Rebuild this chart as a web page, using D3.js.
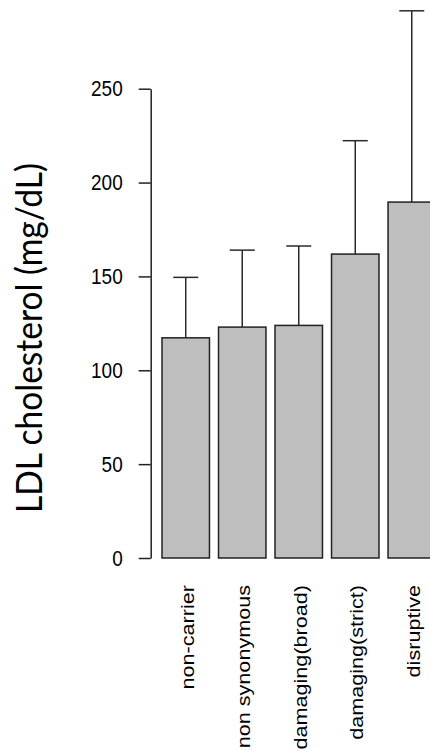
<!DOCTYPE html>
<html>
<head>
<meta charset="utf-8">
<script src="https://cdn.jsdelivr.net/npm/d3@7"></script>
<style>
  html, body { margin: 0; padding: 0; background: #fff; }
  svg { display: block; }
</style>
</head>
<body>
<script>

// Categories and values.
var categories = ['non-carrier', 'non synonymous', 'damaging(broad)', 'damaging(strict)', 'disruptive'];
var means = [117.3, 123.0, 123.9, 161.9, 189.6];
var upper = [149.5, 164.0, 166.2, 222.3, 291.5];
var yTicks = [0, 50, 100, 150, 200, 250];
var yLabel = 'LDL cholesterol (mg/dL)';

var width = 430;
var height = 751;

// Text in the picture is stretched a little vertically.
var stretch = 1.2;

var svg = d3.select('body').append('svg')
  .attr('width', width)
  .attr('height', height);

// Scales.
var y = d3.scaleLinear().domain([0, 250]).range([558, 88.7]);
var x = d3.scaleBand()
  .domain(categories)
  .range([150.7, 446.8])
  .paddingInner(0.16)
  .paddingOuter(0.2);

// Bars.
svg.append('g').selectAll('rect')
  .data(categories)
  .enter().append('rect')
  .attr('x', function(d) { return x(d); })
  .attr('y', function(d, i) { return y(means[i]); })
  .attr('width', x.bandwidth())
  .attr('height', function(d, i) { return y(0) - y(means[i]); })
  .attr('fill', '#bebebe')
  .attr('stroke', '#222')
  .attr('stroke-width', 1.5);

// Error bars: stem plus top cap.
var cap = 12.5;
var err = svg.append('g')
  .attr('stroke', '#2a2a2a')
  .attr('stroke-width', 1.5);

categories.forEach(function(d, i) {
  var cx = x(d) + x.bandwidth() / 2;
  err.append('line')
    .attr('x1', cx).attr('x2', cx)
    .attr('y1', y(means[i])).attr('y2', y(upper[i]));
  err.append('line')
    .attr('x1', cx - cap).attr('x2', cx + cap)
    .attr('y1', y(upper[i])).attr('y2', y(upper[i]));
});

// Y axis.
var axis = svg.append('g')
  .attr('transform', 'translate(150.7,0)')
  .call(d3.axisLeft(y).tickValues(yTicks).tickSize(12).tickSizeOuter(0).tickPadding(16));

axis.select('.domain').attr('stroke', '#222').attr('stroke-width', 1.5);
axis.selectAll('.tick line').attr('stroke', '#222').attr('stroke-width', 1.5);
axis.selectAll('.tick text')
  .attr('fill', '#000')
  .style('font-family', '"Liberation Sans", Arial, sans-serif')
  .style('font-size', '19px')
  .attr('transform', 'scale(1,' + stretch + ')');

// Category labels, rotated.
svg.append('g').selectAll('text')
  .data(categories)
  .enter().append('text')
  .attr('transform', function(d) {
    return 'translate(' + (x(d) + x.bandwidth() / 2 + 8) + ',585) scale(1,' + stretch + ') rotate(-90)';
  })
  .attr('text-anchor', 'end')
  .attr('fill', '#000')
  .style('font-family', '"Liberation Sans", Arial, sans-serif')
  .style('font-size', '18px')
  .text(function(d) { return d; });

// Y axis title.
svg.append('text')
  .attr('transform', 'translate(42,338) rotate(-90)')
  .attr('text-anchor', 'middle')
  .attr('textLength', 350)
  .attr('lengthAdjust', 'spacingAndGlyphs')
  .attr('fill', '#000')
  .style('font-family', 'Lato, "Open Sans", sans-serif')
  .style('font-size', '36px')
  .text(yLabel);

</script>
</body>
</html>
